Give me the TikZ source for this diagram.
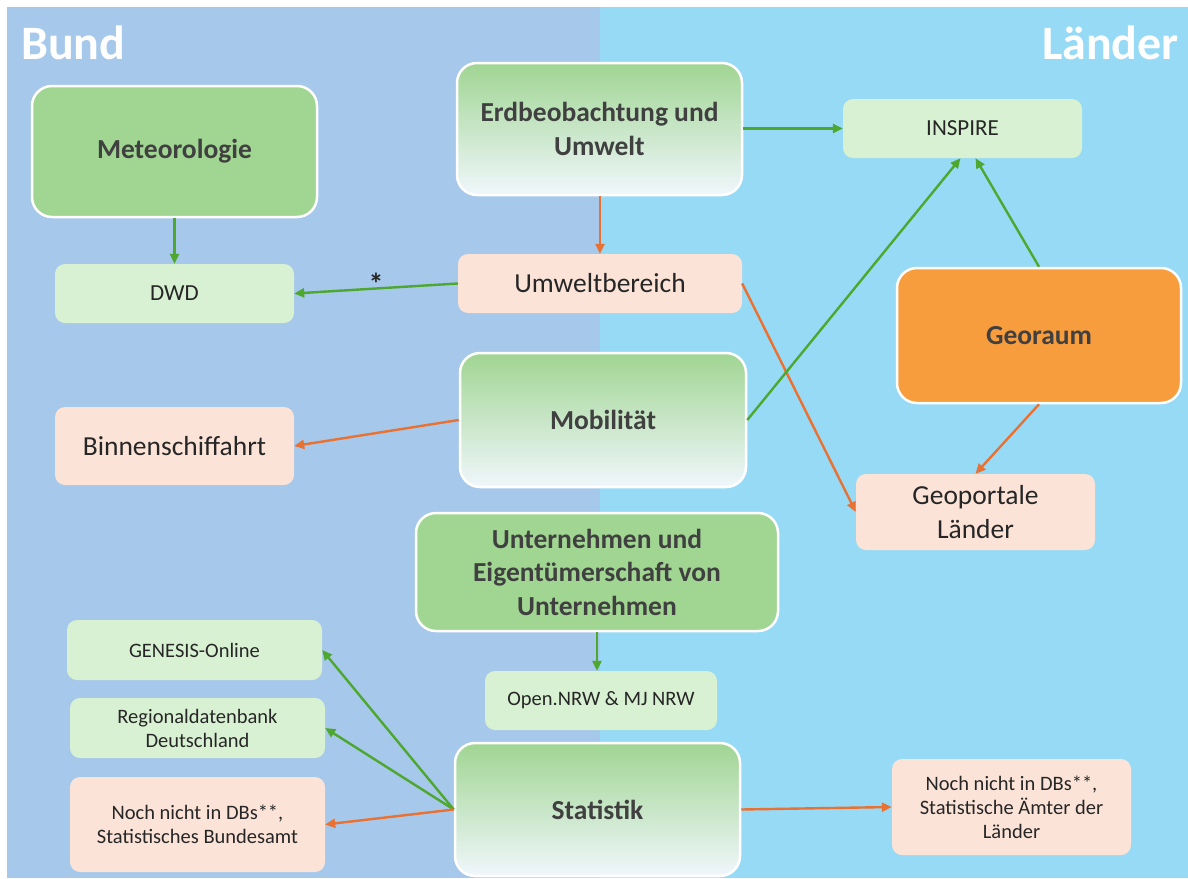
\documentclass[tikz,border=0pt]{standalone}
\usepackage{fontspec}
\setmainfont{Carlito}
\usetikzlibrary{arrows.meta}
\definecolor{bundbg}{HTML}{A6C8EA}
\definecolor{laenderbg}{HTML}{97DAF6}
\definecolor{darkgreen}{HTML}{A0D592}
\definecolor{lightgreen}{HTML}{D9F1D3}
\definecolor{peach}{HTML}{FBE3D7}
\definecolor{orangebox}{HTML}{F89D3E}
\definecolor{gradbottom}{HTML}{F0F7FC}
\definecolor{arrgreen}{HTML}{4EA72E}
\definecolor{arrorange}{HTML}{E97132}
\definecolor{titletext}{HTML}{404040}
\definecolor{bodytext}{HTML}{262626}
\tikzset{
  bigbox/.style={draw=white, line width=2.5pt, rounded corners=20pt, inner sep=0pt, align=center, text=titletext, font=\fontsize{27.5}{33.5}\selectfont\bfseries},
  darkbox/.style={bigbox, fill=darkgreen},
  gradbox/.style={bigbox, top color=darkgreen, bottom color=gradbottom},
  orbox/.style={bigbox, fill=orangebox},
  smallbox/.style={rounded corners=10pt, inner sep=0pt, align=center, text=bodytext, font=\fontsize{20.5}{24}\selectfont},
  greenbox/.style={smallbox, fill=lightgreen},
  peachbox/.style={smallbox, fill=peach},
  medfont/.style={font=\fontsize{27.5}{34}\selectfont},
  capfont/.style={font=\fontsize{23}{26}\selectfont},
  garrow/.style={draw=arrgreen, line width=2.4pt, -{Triangle[length=10pt,width=9pt]}},
  oarrow/.style={draw=arrorange, line width=2.4pt, -{Triangle[length=10pt,width=9pt]}},
  regiontitle/.style={text=white, font=\fontsize{48}{52}\selectfont\bfseries, inner sep=0pt}
}
\begin{document}
\begin{tikzpicture}[x=1pt,y=-1pt]
\useasboundingbox (0,0) rectangle (1188,878);
\fill[white] (0,0) rectangle (1188,878);
\fill[bundbg] (7,7) rectangle (600,878);
\fill[laenderbg] (600,7) rectangle (1188,878);
\node[regiontitle, anchor=base west] (bund) at (21,59) {Bund};
\node[regiontitle, anchor=base east] (laender) at (1179,59) {Länder};

% big boxes
\node[darkbox, minimum width=285pt, minimum height=131pt] (meteo) at (174.5,151.5) {Meteorologie};
\node[gradbox, minimum width=285pt, minimum height=132pt] (erdbeo) at (599.5,129) {Erdbeobachtung und\\Umwelt};
\node[gradbox, minimum width=286pt, minimum height=134pt] (mobil) at (603,420) {Mobilität};
\node[orbox, minimum width=284pt, minimum height=135pt] (georaum) at (1039,335.5) {Georaum};
\node[darkbox, minimum width=362pt, minimum height=118pt] (unternehmen) at (597,572) {Unternehmen und\\Eigentümerschaft von\\Unternehmen};
\node[gradbox, minimum width=285pt, minimum height=133pt] (statistik) at (597.5,809.5) {Statistik};

% small boxes
\node[greenbox, capfont, minimum width=239pt, minimum height=59pt] (dwd) at (174.5,293.5) {DWD};
\node[greenbox, capfont, minimum width=239pt, minimum height=59pt] (inspire) at (962.5,128.5) {INSPIRE};
\node[peachbox, medfont, minimum width=284pt, minimum height=59pt] (umwelt) at (600,283.5) {Umweltbereich};
\node[peachbox, medfont, minimum width=239pt, minimum height=78pt] (binnen) at (174.5,446) {Binnenschiffahrt};
\node[peachbox, medfont, minimum width=239pt, minimum height=76pt] (geoportale) at (975.5,512) {Geoportale\\Länder};
\node[greenbox, minimum width=255pt, minimum height=60pt] (genesis) at (194.5,650) {GENESIS-Online};
\node[greenbox, minimum width=255pt, minimum height=60pt] (regio) at (197.5,728) {Regionaldatenbank\\Deutschland};
\node[peachbox, minimum width=255pt, minimum height=95pt] (nochbund) at (197.5,824.5) {Noch nicht in DBs**,\\Statistisches Bundesamt};
\node[greenbox, minimum width=232pt, minimum height=59pt] (opennrw) at (601,700.5) {Open.NRW \& MJ NRW};
\node[peachbox, minimum width=239pt, minimum height=96pt] (nochlaender) at (1011.5,807) {Noch nicht in DBs**,\\Statistische Ämter der\\Länder};

% connectors
\draw[garrow] (meteo.south) -- (dwd.north);
\draw[garrow] (umwelt.west) -- node[pos=0.5, above=-11pt, text=bodytext, font=\fontsize{30}{30}\selectfont\bfseries] {*} (dwd.east);
\draw[garrow] (erdbeo.east |- inspire.west) -- (inspire.west);
\draw[oarrow] (erdbeo.south -| umwelt.north) -- (umwelt.north);
\draw[oarrow] (umwelt.east) -- (geoportale.west);
\draw[garrow] (mobil.east) -- ([xshift=-2pt]inspire.south);
\draw[garrow] (georaum.north) -- ([xshift=13pt]inspire.south);
\draw[oarrow] (georaum.south) -- (geoportale.north);
\draw[oarrow] (mobil.west) -- (binnen.east);
\draw[garrow] (unternehmen.south) -- (opennrw.north -| unternehmen.south);
\draw[garrow] (statistik.west) -- (genesis.east);
\draw[garrow] (statistik.west) -- (regio.east);
\draw[oarrow] (statistik.west) -- (nochbund.east);
\draw[oarrow] (statistik.east) -- (nochlaender.west);
\end{tikzpicture}
\end{document}
